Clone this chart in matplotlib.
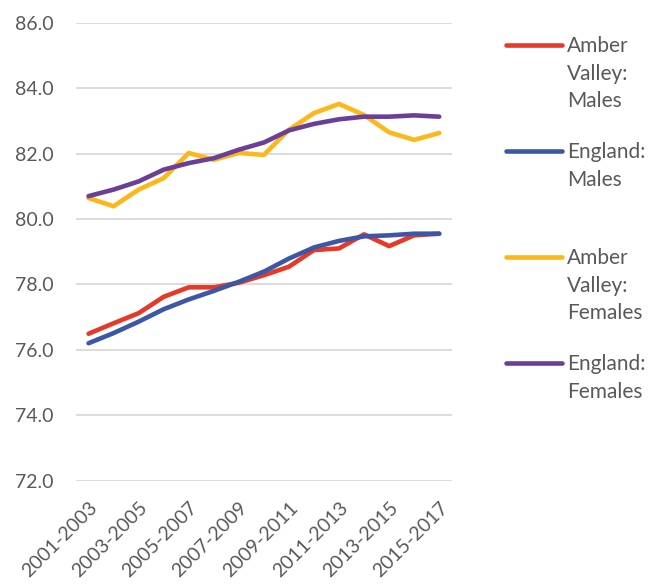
import matplotlib
matplotlib.use("Agg")
import matplotlib.pyplot as plt
from matplotlib.lines import Line2D

# Three-year rolling periods
periods = [f"{y}-{y + 2}" for y in range(2001, 2016)]

av_males = [76.49, 76.81, 77.12, 77.62, 77.91, 77.91, 78.05, 78.28,
            78.54, 79.05, 79.10, 79.53, 79.17, 79.50, 79.55]
eng_males = [76.20, 76.51, 76.86, 77.24, 77.54, 77.80, 78.08, 78.39,
             78.79, 79.13, 79.33, 79.47, 79.50, 79.55, 79.55]
av_females = [80.64, 80.39, 80.90, 81.25, 82.02, 81.81, 82.02, 81.96,
              82.73, 83.24, 83.52, 83.18, 82.65, 82.42, 82.63]
eng_females = [80.70, 80.90, 81.15, 81.51, 81.71, 81.86, 82.12, 82.34,
               82.71, 82.91, 83.05, 83.13, 83.13, 83.17, 83.13]

series = [
    ("Amber\nValley:\nMales", av_males, "#E53A27"),
    ("England:\nMales", eng_males, "#3C57A6"),
    ("Amber\nValley:\nFemales", av_females, "#FDB71A"),
    ("England:\nFemales", eng_females, "#6B3F98"),
]

plt.rcParams["font.family"] = ["Lato", "DejaVu Sans"]
text_col = "#595959"

fig = plt.figure(figsize=(6.5, 5.86), dpi=100)
ax = fig.add_axes([0.117, 0.180, 0.578, 0.781])

x = list(range(len(periods)))
for label, vals, col in series:
    ax.plot(x, vals, color=col, lw=3.3, solid_capstyle="round",
            solid_joinstyle="round", zorder=3)

ax.set_xlim(-0.5, len(periods) - 0.5)
ax.set_ylim(72, 86)
ax.set_yticks(range(72, 87, 2))
ax.set_yticklabels([f"{v:.1f}" for v in range(72, 87, 2)])
ax.yaxis.grid(True, color="#d9d9d9", lw=1.3)
ax.set_axisbelow(True)
for s in ax.spines.values():
    s.set_visible(False)

ax.set_xticks(x[::2])
ax.set_xticklabels(periods[::2], rotation=45, ha="right",
                   rotation_mode="anchor")
ax.tick_params(axis="y", length=0, pad=16, labelsize=14, labelcolor=text_col)
ax.tick_params(axis="x", length=0, pad=13, labelsize=14, labelcolor=text_col)

# legend on the right, one entry per series, handle beside first text line
fw, fh = 650, 586
legend_y = [45, 151, 257, 363]
for (label, vals, col), py in zip(series, legend_y):
    yf = 1 - py / fh
    fig.add_artist(Line2D([506 / fw, 562 / fw], [yf, yf], color=col, lw=3.3,
                          solid_capstyle="round", transform=fig.transFigure))
    fig.text(567 / fw, yf + 9 / fh, label, ha="left", va="top",
             fontsize=15, color=text_col, linespacing=1.47)

fig.savefig("out.png", dpi=100)
